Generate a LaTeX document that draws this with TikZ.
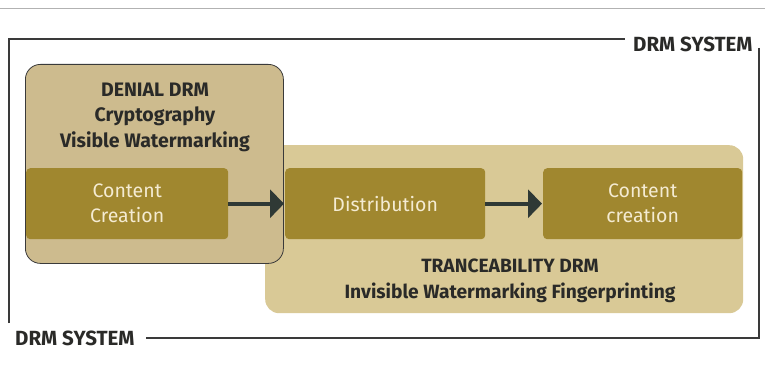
\documentclass[tikz,border=0pt]{standalone}
\usepackage{fontspec}
\setmainfont{Fira Sans}
\usetikzlibrary{arrows.meta}
\definecolor{denialfill}{HTML}{CDBB8E}
\definecolor{tracefill}{HTML}{D9C996}
\definecolor{darkbox}{HTML}{A0872F}
\definecolor{boxtext}{HTML}{F4EBD2}
\definecolor{inktext}{HTML}{2A2A28}
\definecolor{arrowcol}{HTML}{2F3935}
\definecolor{framecol}{HTML}{3A3A3A}
\tikzset{
  px/.style={x=1pt,y=-1pt},
  innerbox/.style={fill=darkbox, rounded corners=4pt, text=boxtext, align=center,
    font=\fontsize{19.5}{25}\selectfont, inner sep=0pt},
  labeltext/.style={text=inktext, align=center, inner sep=0pt},
  frametext/.style={text=inktext, font=\fontsize{20.5}{21}\selectfont\bfseries, inner sep=0pt},
  frameline/.style={draw=framecol, line width=1.3pt},
  flow/.style={draw=arrowcol, line width=4pt, -{Triangle[length=14pt,width=28pt]}, shorten >=1pt}
}
\begin{document}
\begin{tikzpicture}[px]
\useasboundingbox (0,0) rectangle (765,366);
\fill[white] (0,0) rectangle (765,366);
% top scan line
\draw[gray!60, line width=1pt] (0,9) -- (765,9);
% traceability region (behind)
\node[fill=tracefill, rounded corners=14pt, minimum width=478pt, minimum height=168pt, inner sep=0pt, anchor=north west] (trace) at (265,145) {};
% denial region
\node[fill=denialfill, draw=framecol, line width=0.8pt, rounded corners=15pt, minimum width=258pt, minimum height=199pt, inner sep=0pt, anchor=north west] (denial) at (25,64) {};
% inner boxes
\node[innerbox, minimum width=202pt, minimum height=71pt, anchor=north west] (cc1) at (26,168) {Content\\Creation};
\node[innerbox, minimum width=200pt, minimum height=71pt, anchor=north west] (dist) at (285,168) {Distribution};
\node[innerbox, minimum width=199pt, minimum height=71pt, anchor=north west] (cc2) at (543,168) {Content\\creation};
% labels
\node[labeltext, font=\fontsize{19.5}{25.5}\selectfont\bfseries] (denialtxt) at (155,117) {DENIAL DRM\\Cryptography\\Visible Watermarking};
\node[labeltext, font=\fontsize{19.2}{26}\selectfont\bfseries] (tracetxt) at (510,281) {TRANCEABILITY DRM\\Invisible Watermarking Fingerprinting};
% arrows
\draw[flow] (cc1.east) -- (dist.west);
\draw[flow] (dist.east) -- (cc2.west);
% frame
\node[frametext, anchor=west] (toplabel) at (633,44) {DRM SYSTEM};
\node[frametext, anchor=west] (botlabel) at (15,338) {DRM SYSTEM};
\coordinate (tl) at (9,39);
\coordinate (tlend) at (625,39);
\coordinate (bl) at (9,323);
\coordinate (rt) at (759,48);
\coordinate (br) at (759,338);
\coordinate (bstart) at (146,338);
\draw[frameline] (bl) -- (tl) -- (tlend);
\draw[frameline] (rt) -- (br) -- (bstart);
\end{tikzpicture}
\end{document}
